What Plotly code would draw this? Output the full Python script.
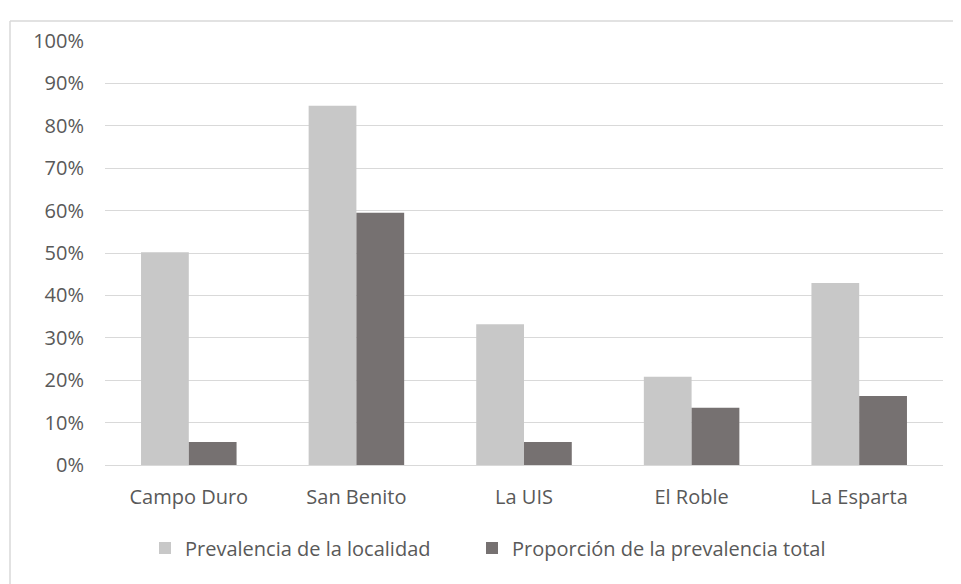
import plotly.graph_objects as go

categories = ["Campo Duro", "San Benito", "La UIS", "El Roble", "La Esparta"]
prevalencia_localidad = [0.502, 0.847, 0.332, 0.208, 0.429]
proporcion_total = [0.054, 0.595, 0.054, 0.135, 0.163]
series_names = ["Prevalencia de la localidad", "Proporción de la prevalencia total"]
tick_vals = [0, 0.1, 0.2, 0.3, 0.4, 0.5, 0.6, 0.7, 0.8, 0.9, 1.0]
tick_text = ["0%", "10%", "20%", "30%", "40%", "50%", "60%", "70%", "80%", "90%", "100%"]

FONT = "Open Sans"
TXT = "#595959"
GRID = "#D9D9D9"

fig = go.Figure()
fig.add_trace(go.Bar(x=categories, y=prevalencia_localidad, name=series_names[0],
                     marker=dict(color="#C8C8C8", line=dict(width=0)), legend="legend"))
fig.add_trace(go.Bar(x=categories, y=proporcion_total, name=series_names[1],
                     marker=dict(color="#767171", line=dict(width=0)), legend="legend2"))

# page body has an 8px margin; figure coords = screen coords - 8
OFF = 8
W, H = 961, 584
L = 105 - OFF
T = 41 - OFF
R = W - (943 - OFF)
B = H - (465 - OFF)
pw, ph = W - L - R, H - T - B

def px_x(screen_x):
    return ((screen_x - OFF) - L) / pw

def px_y(screen_y):
    return ((H - B) - (screen_y - OFF)) / ph

leg_common = dict(orientation="h", xanchor="left", y=px_y(548), yanchor="middle",
                  font=dict(family=FONT, size=20, color=TXT), bgcolor="rgba(0,0,0,0)")

fig.update_layout(
    width=W, height=H,
    margin=dict(l=L, r=R, t=T, b=B, pad=0),
    paper_bgcolor="white", plot_bgcolor="white",
    barmode="group", bargap=0.43, bargroupgap=0,
    font=dict(family=FONT, size=20, color=TXT),
    showlegend=True,
    legend=dict(x=px_x(145), **leg_common),
    legend2=dict(x=px_x(472), **leg_common),
    xaxis=dict(showgrid=False, showline=True, linecolor=GRID, linewidth=1,
               ticks="", tickfont=dict(family=FONT, size=20, color=TXT),
               ticklabelstandoff=14, zeroline=False),
    yaxis=dict(range=[0, 1.0], tickvals=tick_vals, ticktext=tick_text,
               showgrid=True, gridcolor=GRID, gridwidth=1,
               zeroline=False, showline=False, ticks="",
               tickfont=dict(family=FONT, size=20, color=TXT),
               ticklabelstandoff=20),
)

# chart frame: left and top edges
x_left = ((10 - OFF) - L) / pw
x_right = (W + 5 - L) / pw
y_top = ((H - B) - (21 - OFF)) / ph
y_bottom = ((H - B) - (H + 5)) / ph
fig.add_shape(type="line", xref="paper", yref="paper", x0=x_left, x1=x_left, y0=y_bottom, y1=y_top,
              line=dict(color=GRID, width=1.5))
fig.add_shape(type="line", xref="paper", yref="paper", x0=x_left, x1=x_right, y0=y_top, y1=y_top,
              line=dict(color=GRID, width=1.5))

fig.write_html("out.html")
